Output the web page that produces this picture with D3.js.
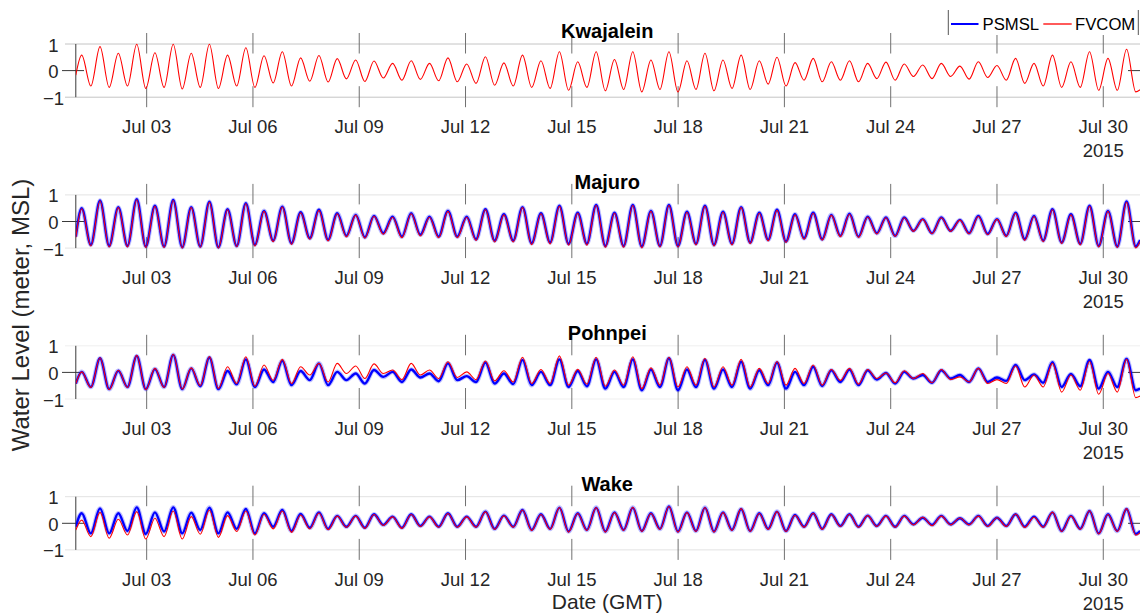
<!DOCTYPE html>
<html>
<head>
<meta charset="utf-8">
<script src="https://cdn.jsdelivr.net/npm/d3@7"></script>
<style>
  html, body { margin: 0; padding: 0; background: #fff; }
  svg { display: block; }
  text { font-family: "Liberation Sans", Arial, Helvetica, sans-serif; }
</style>
</head>
<body>
<svg id="chart" width="1140" height="615"></svg>
<script>
// Tide gauge stations, top to bottom
const stations = ["Kwajalein", "Majuro", "Pohnpei", "Wake"];

// Times (hours after 2015-07-01 00:00 GMT) of successive high / low waters
const tideHours = [0, 4.0, 10.2, 16.4, 22.6, 28.8, 35.0, 41.3, 47.4, 53.6, 59.8, 66.0, 72.1, 78.2, 84.3, 90.5, 96.6, 102.8, 109.0, 115.2, 121.3, 127.5, 133.7, 139.9, 146.1, 152.3, 158.5, 164.7, 170.9, 177.1, 183.3, 189.6, 195.8, 202.0, 208.3, 214.6, 220.9, 227.2, 233.4, 239.6, 245.8, 252.1, 258.4, 264.8, 271.1, 277.5, 283.7, 290.0, 296.3, 302.6, 308.8, 315.1, 321.3, 327.6, 333.8, 340.0, 346.2, 352.5, 358.7, 364.9, 371.1, 377.3, 383.4, 389.6, 395.7, 401.8, 407.9, 414.0, 420.1, 426.2, 432.3, 438.4, 444.5, 450.7, 456.8, 463.0, 469.0, 475.0, 481.1, 487.2, 493.3, 499.5, 505.6, 511.8, 517.9, 524.1, 530.2, 536.4, 542.6, 548.8, 555.0, 561.2, 567.4, 573.7, 580.0, 586.3, 592.6, 598.9, 605.1, 611.4, 617.7, 624.0, 630.3, 636.6, 642.8, 649.1, 655.3, 661.6, 667.8, 674.1, 680.4, 686.7, 692.9, 699.2, 705.5, 711.8, 718.0, 721.0];

// Water level (m, MSL) at those times
const kwajaleinPsmsl = []; // no gauge record for the month
const kwajaleinFvcom = [-0.17,
  0.58,-0.58, 0.90,-0.63, 0.65,-0.58, 0.99,-0.67, 0.67,-0.63, 0.99,-0.69, 0.65,-0.63, 0.99,-0.67, 0.58,-0.58, 0.86,-0.63,
  0.56,-0.46, 0.71,-0.58, 0.48,-0.40, 0.57,-0.43, 0.45,-0.31, 0.40,-0.41, 0.36,-0.28, 0.27,-0.36, 0.37,-0.33, 0.27,-0.38,
  0.48,-0.42, 0.25,-0.48, 0.52,-0.55, 0.29,-0.58, 0.58,-0.63, 0.37,-0.67, 0.71,-0.74, 0.33,-0.63, 0.71,-0.76, 0.42,-0.71,
  0.71,-0.80, 0.40,-0.71, 0.71,-0.80, 0.37,-0.71, 0.65,-0.76, 0.40,-0.67, 0.58,-0.71, 0.37,-0.51, 0.50,-0.58, 0.30,-0.36,
  0.46,-0.42, 0.33,-0.36, 0.37,-0.42, 0.27,-0.30, 0.32,-0.36, 0.25,-0.22, 0.21,-0.30, 0.27,-0.22, 0.17,-0.32, 0.33,-0.26,
  0.19,-0.36, 0.46,-0.48, 0.27,-0.58, 0.58,-0.63, 0.33,-0.63, 0.71,-0.74, 0.46,-0.74, 0.80,-0.80,
  -0.72];

const majuroPsmsl = [-0.57,
  0.50,-0.88, 0.79,-0.92, 0.54,-0.92, 0.84,-0.94, 0.59,-0.94, 0.81,-0.97, 0.54,-0.94, 0.74,-0.97, 0.46,-0.92, 0.69,-0.88,
  0.40,-0.72, 0.56,-0.82, 0.35,-0.63, 0.44,-0.69, 0.31,-0.54, 0.25,-0.59, 0.21,-0.44, 0.18,-0.57, 0.31,-0.50, 0.18,-0.57,
  0.40,-0.57, 0.18,-0.67, 0.46,-0.72, 0.27,-0.72, 0.54,-0.82, 0.31,-0.79, 0.59,-0.84, 0.33,-0.84, 0.62,-0.92, 0.33,-0.92,
  0.62,-0.94, 0.40,-0.92, 0.62,-0.92, 0.37,-0.84, 0.59,-0.88, 0.37,-0.84, 0.54,-0.79, 0.33,-0.69, 0.44,-0.75, 0.27,-0.63,
  0.33,-0.67, 0.25,-0.54, 0.29,-0.57, 0.18,-0.44, 0.15,-0.54, 0.15,-0.35, 0.09,-0.44, 0.15,-0.35, 0.06,-0.44, 0.21,-0.47,
  0.09,-0.54, 0.33,-0.67, 0.21,-0.72, 0.46,-0.79, 0.27,-0.84, 0.59,-0.92, 0.40,-0.94, 0.75,-0.94,
  -0.70];
const majuroFvcom = [-0.60,
  0.48,-0.92, 0.77,-0.96, 0.52,-0.96, 0.82,-0.98, 0.57,-0.98, 0.79,-1.00, 0.52,-0.97, 0.72,-1.00, 0.44,-0.95, 0.67,-0.92,
  0.38,-0.76, 0.54,-0.86, 0.33,-0.67, 0.42,-0.73, 0.29,-0.58, 0.24,-0.63, 0.20,-0.48, 0.16,-0.61, 0.29,-0.54, 0.16,-0.61,
  0.38,-0.61, 0.16,-0.71, 0.44,-0.77, 0.25,-0.77, 0.52,-0.87, 0.29,-0.84, 0.57,-0.89, 0.31,-0.89, 0.60,-0.97, 0.31,-0.97,
  0.60,-0.99, 0.38,-0.96, 0.60,-0.96, 0.35,-0.88, 0.57,-0.92, 0.35,-0.88, 0.52,-0.83, 0.31,-0.73, 0.42,-0.79, 0.25,-0.67,
  0.31,-0.70, 0.23,-0.57, 0.27,-0.60, 0.17,-0.47, 0.14,-0.56, 0.14,-0.37, 0.08,-0.46, 0.14,-0.37, 0.05,-0.46, 0.19,-0.50,
  0.08,-0.57, 0.31,-0.71, 0.19,-0.76, 0.44,-0.83, 0.25,-0.88, 0.57,-0.96, 0.38,-0.98, 0.72,-0.99,
  -0.75];

const pohnpeiPsmsl = [-0.42,
  0.02,-0.55, 0.53,-0.63, 0.06,-0.55, 0.62,-0.63, 0.13,-0.55, 0.66,-0.63, 0.15,-0.52, 0.56,-0.63, 0.05,-0.45, 0.49,-0.55,
  0.11,-0.36, 0.44,-0.48, 0.05,-0.29, 0.34,-0.48, 0.02,-0.29, -0.04,-0.42, 0.09,-0.17, 0.02,-0.36, 0.11,-0.19, -0.04,-0.33,
  0.34,-0.29, -0.14,-0.36, 0.37,-0.42, -0.04,-0.44, 0.47,-0.48, 0.02,-0.48, 0.49,-0.55, 0.05,-0.52, 0.49,-0.61, 0.02,-0.55,
  0.49,-0.67, 0.11,-0.55, 0.53,-0.67, 0.11,-0.55, 0.47,-0.61, 0.11,-0.55, 0.40,-0.61, 0.08,-0.48, 0.37,-0.61, 0.02,-0.48,
  0.21,-0.51, 0.08,-0.36, 0.11,-0.48, 0.08,-0.27, -0.02,-0.42, 0.02,-0.23, -0.10,-0.39, 0.08,-0.23, -0.10,-0.36, 0.15,-0.36,
  -0.19,-0.32, 0.28,-0.29, -0.08,-0.39, 0.38,-0.55, -0.06,-0.52, 0.47,-0.61, 0.02,-0.55, 0.51,-0.67,
  -0.61];
const pohnpeiFvcom = [-0.42,
  0.02,-0.57, 0.55,-0.65, 0.08,-0.57, 0.64,-0.65, 0.15,-0.57, 0.68,-0.63, 0.17,-0.50, 0.60,-0.60, 0.21,-0.42, 0.59,-0.52,
  0.28,-0.30, 0.49,-0.42, 0.21,-0.10, 0.34,-0.36, 0.34,-0.04, 0.24,-0.23, 0.32,-0.04, 0.09,-0.27, 0.34,-0.10, 0.09,-0.23,
  0.40,-0.19, 0.02,-0.27, 0.43,-0.32, 0.06,-0.36, 0.57,-0.42, 0.11,-0.42, 0.62,-0.48, 0.12,-0.44, 0.57,-0.52, 0.09,-0.48,
  0.59,-0.61, 0.17,-0.48, 0.57,-0.55, 0.21,-0.48, 0.53,-0.55, 0.21,-0.48, 0.49,-0.55, 0.15,-0.42, 0.41,-0.48, 0.15,-0.42,
  0.28,-0.48, 0.11,-0.30, 0.15,-0.44, 0.11,-0.23, -0.02,-0.39, 0.06,-0.23, -0.04,-0.39, 0.11,-0.27, -0.17,-0.36, 0.15,-0.42,
  -0.27,-0.42, 0.24,-0.55, -0.10,-0.55, 0.34,-0.74, -0.10,-0.67, 0.41,-0.82, -0.04,-0.74, 0.49,-0.95,
  -0.89];

const wakePsmsl = [-0.13,
  0.38,-0.38, 0.56,-0.38, 0.38,-0.29, 0.60,-0.40, 0.41,-0.31, 0.60,-0.38, 0.40,-0.25, 0.59,-0.38, 0.41,-0.21, 0.54,-0.38,
  0.38,-0.13, 0.50,-0.29, 0.35,-0.17, 0.41,-0.21, 0.28,-0.13, 0.28,-0.17, 0.34,-0.06, 0.25,-0.17, 0.34,-0.10, 0.25,-0.13,
  0.38,-0.13, 0.25,-0.13, 0.44,-0.21, 0.29,-0.13, 0.50,-0.25, 0.34,-0.21, 0.59,-0.31, 0.38,-0.25, 0.59,-0.31, 0.41,-0.25,
  0.59,-0.29, 0.38,-0.21, 0.63,-0.31, 0.41,-0.29, 0.59,-0.31, 0.41,-0.25, 0.54,-0.29, 0.38,-0.21, 0.44,-0.29, 0.31,-0.13,
  0.38,-0.21, 0.34,-0.10, 0.34,-0.13, 0.29,-0.10, 0.28,-0.13, 0.28,-0.04, 0.21,-0.06, 0.28,-0.04, 0.19,-0.04, 0.28,-0.10,
  0.21,-0.10, 0.34,-0.13, 0.25,-0.13, 0.41,-0.29, 0.28,-0.21, 0.46,-0.38, 0.34,-0.29, 0.54,-0.40,
  -0.29];
const wakeFvcom = [-0.25,
  0.12,-0.50, 0.41,-0.56, 0.15,-0.44, 0.44,-0.59, 0.19,-0.50, 0.46,-0.59, 0.25,-0.41, 0.50,-0.53, 0.29,-0.31, 0.46,-0.44,
  0.34,-0.21, 0.46,-0.34, 0.31,-0.21, 0.39,-0.24, 0.27,-0.15, 0.27,-0.19, 0.33,-0.08, 0.24,-0.19, 0.33,-0.12, 0.24,-0.15,
  0.37,-0.15, 0.24,-0.15, 0.43,-0.23, 0.28,-0.15, 0.50,-0.27, 0.33,-0.23, 0.59,-0.33, 0.37,-0.27, 0.59,-0.33, 0.40,-0.27,
  0.60,-0.31, 0.37,-0.23, 0.63,-0.33, 0.40,-0.31, 0.59,-0.33, 0.40,-0.27, 0.55,-0.31, 0.37,-0.23, 0.44,-0.31, 0.30,-0.15,
  0.38,-0.23, 0.33,-0.12, 0.34,-0.15, 0.29,-0.12, 0.27,-0.15, 0.27,-0.06, 0.23,-0.09, 0.27,-0.06, 0.20,-0.06, 0.27,-0.12,
  0.21,-0.12, 0.35,-0.16, 0.23,-0.15, 0.42,-0.31, 0.27,-0.23, 0.47,-0.40, 0.33,-0.31, 0.55,-0.45,
  -0.35];

const psmslSeries = [kwajaleinPsmsl, majuroPsmsl, pohnpeiPsmsl, wakePsmsl];
const fvcomSeries = [kwajaleinFvcom, majuroFvcom, pohnpeiFvcom, wakeFvcom];

// Axis ticks
const dateTickLabels = ["2015-07-03", "2015-07-06", "2015-07-09", "2015-07-12", "2015-07-15",
                        "2015-07-18", "2015-07-21", "2015-07-24", "2015-07-27", "2015-07-30"];
const levelTicks = [-1, 0, 1];
const yearLabel = "2015";
const legendNames = ["PSMSL", "FVCOM"];

// ---------------------------------------------------------------- layout
const svg = d3.select("#chart");
const W = 1140, H = 615;
const plotLeft = 75.8, plotRight = 1138.7;
const panelTop0 = 44, panelStep = 150.9, panelH = 53.2;
const textColor = "#262626";
const gridColors = ["#c4c4c4", "#e4e4e4", "#efefef", "#e2e2e2"];

const t0 = Date.UTC(2015, 6, 1);
const x = d3.scaleUtc()
  .domain([new Date(t0), new Date(Date.UTC(2015, 6, 31))])
  .range([plotLeft, plotRight]);
const fmt = d3.utcFormat("%b %d");
const tickDates = dateTickLabels.map(s => new Date(s + "T00:00:00Z"));

svg.append("rect").attr("width", W).attr("height", H).attr("fill", "#fff");

const defs = svg.append("defs");

stations.forEach((name, i) => {
  const top = panelTop0 + i * panelStep;
  const bottom = top + panelH;
  const y = d3.scaleLinear().domain([-1, 1]).range([bottom, top]);
  const g = svg.append("g").attr("class", "panel");

  // horizontal grid at +1 / -1
  g.selectAll("line.grid").data([1, -1]).join("line")
    .attr("x1", 65).attr("x2", W)
    .attr("y1", d => y(d)).attr("y2", d => y(d))
    .attr("stroke", gridColors[i]).attr("stroke-width", 1);

  // date tick marks, drawn inward from above and below the band
  const tickG = g.append("g");
  tickDates.forEach(d => {
    const xx = x(d);
    tickG.append("line").attr("x1", xx).attr("x2", xx)
      .attr("y1", top - 11).attr("y2", top + 9.5)
      .attr("stroke", "#707070").attr("stroke-width", 1);
    tickG.append("line").attr("x1", xx).attr("x2", xx)
      .attr("y1", bottom - 11).attr("y2", bottom + 10)
      .attr("stroke", "#707070").attr("stroke-width", 1);
  });

  // date tick labels
  g.selectAll("text.xt").data(tickDates).join("text")
    .attr("x", d => x(d)).attr("y", bottom + 36)
    .attr("text-anchor", "middle")
    .attr("font-size", 18.5).attr("fill", textColor)
    .text(d => fmt(d));
  g.append("text")
    .attr("x", x(tickDates[tickDates.length - 1])).attr("y", bottom + 60)
    .attr("text-anchor", "middle").attr("font-size", 18.5).attr("fill", textColor)
    .text(yearLabel);

  // level axis line, zero ticks and labels
  g.append("line").attr("x1", plotLeft).attr("x2", plotLeft)
    .attr("y1", y(1)).attr("y2", y(-1))
    .attr("stroke", "#3a3a3a").attr("stroke-width", 1);
  g.append("line").attr("x1", 62).attr("x2", 84)
    .attr("y1", y(0)).attr("y2", y(0))
    .attr("stroke", "#3a3a3a").attr("stroke-width", 1);
  g.append("line").attr("x1", 1128).attr("x2", W)
    .attr("y1", y(0)).attr("y2", y(0))
    .attr("stroke", "#3a3a3a").attr("stroke-width", 1);
  g.selectAll("text.yt").data(levelTicks).join("text")
    .attr("x", 53.5).attr("y", d => y(d) + 1)
    .attr("dominant-baseline", "central")
    .attr("text-anchor", "middle")
    .attr("font-size", 18.5).attr("fill", textColor)
    .text(d => d3.format("d")(d));

  // series
  const clipId = "clip" + i;
  defs.append("clipPath").attr("id", clipId).append("rect")
    .attr("x", plotLeft).attr("y", top - 20).attr("width", W - plotLeft).attr("height", panelH + 40);
  const line = d3.line()
    .x((d, k) => x(new Date(t0 + tideHours[k] * 3600e3)))
    .y(d => y(d))
    .curve(d3.curveMonotoneX);
  const lines = g.append("g").attr("clip-path", `url(#${clipId})`);
  const ps = psmslSeries[i];
  if (ps.length) {
    lines.append("path").attr("d", line(ps)).attr("fill", "none")
      .attr("stroke", "rgba(0,0,255,0.25)").attr("stroke-width", 4.5)
      .attr("stroke-linejoin", "round");
    lines.append("path").attr("d", line(ps)).attr("fill", "none")
      .attr("stroke", "#0000ff").attr("stroke-width", 2.4)
      .attr("stroke-linejoin", "round");
  }
  lines.append("path").attr("d", line(fvcomSeries[i])).attr("fill", "none")
    .attr("stroke", "#ff0000").attr("stroke-width", 1.1)
    .attr("stroke-linejoin", "round");

  // panel title
  g.append("text")
    .attr("x", (plotLeft + plotRight) / 2).attr("y", top - 5.7)
    .attr("text-anchor", "middle")
    .attr("font-size", 20).attr("font-weight", "bold").attr("fill", "#000")
    .text(name);
});

// axis titles
svg.append("text")
  .attr("transform", "translate(29,315) rotate(-90)")
  .attr("text-anchor", "middle")
  .attr("font-size", 24).attr("fill", textColor)
  .text("Water Level (meter, MSL)");
svg.append("text")
  .attr("x", (plotLeft + plotRight) / 2).attr("y", 609)
  .attr("text-anchor", "middle")
  .attr("font-size", 21).attr("fill", textColor)
  .text("Date (GMT)");

// legend
const lg = svg.append("g");
lg.append("rect").attr("x", 948.3).attr("y", 10).attr("width", 190).attr("height", 25)
  .attr("fill", "#fff");
[948.3, 1138.3].forEach(xx =>
  lg.append("line").attr("x1", xx).attr("x2", xx).attr("y1", 10).attr("y2", 35)
    .attr("stroke", "#555").attr("stroke-width", 1));
lg.append("line").attr("x1", 951).attr("x2", 978.5).attr("y1", 24).attr("y2", 24)
  .attr("stroke", "#0000ff").attr("stroke-width", 2);
lg.append("text").attr("x", 982.5).attr("y", 29.5).attr("font-size", 16.7).attr("fill", "#000")
  .text(legendNames[0]);
lg.append("line").attr("x1", 1043.3).attr("x2", 1071.7).attr("y1", 24).attr("y2", 24)
  .attr("stroke", "#ff0000").attr("stroke-width", 1.3);
lg.append("text").attr("x", 1075).attr("y", 29.5).attr("font-size", 16.7).attr("fill", "#000")
  .text(legendNames[1]);
</script>
</body>
</html>
